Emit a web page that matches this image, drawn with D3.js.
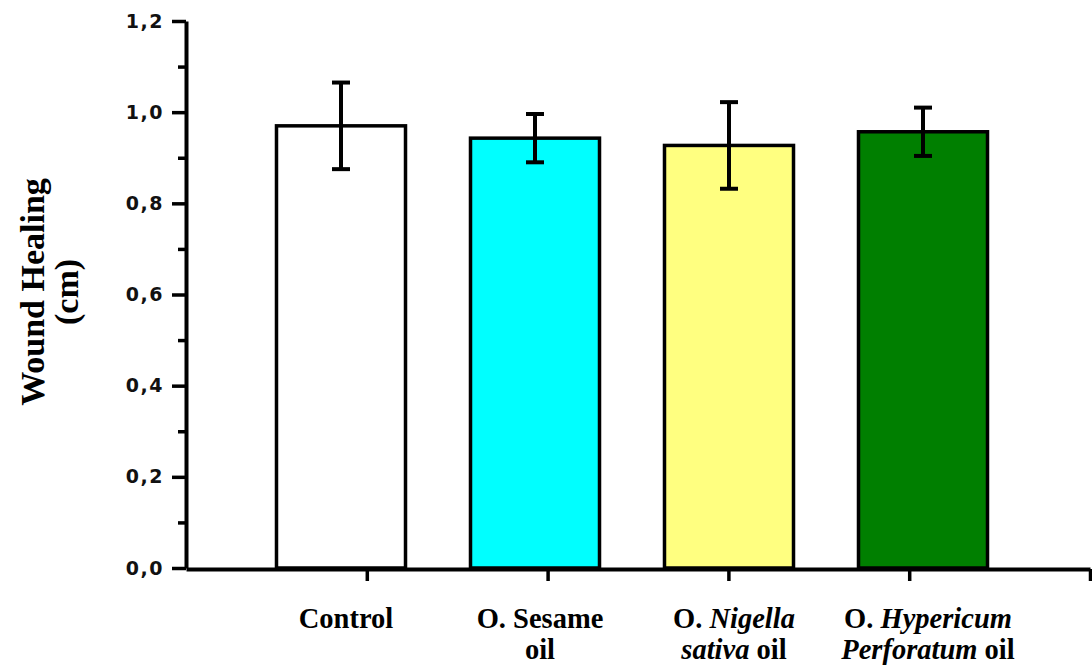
<!DOCTYPE html>
<html>
<head>
<meta charset="utf-8">
<script src="https://cdn.jsdelivr.net/npm/d3@7"></script>
<style>
  body { margin: 0; background: #fff; }
  svg { display: block; }
</style>
</head>
<body>
<svg id="chart" width="1092" height="668"></svg>
<script>
// data
const categories = ['Control', 'O. Sesame oil', 'O. Nigella sativa oil', 'O. Hypericum Perforatum oil'];
// label lines, *...* = italic
const labelLines = [
  ['Control'],
  ['O. Sesame', 'oil'],
  ['O. *Nigella*', '*sativa* oil'],
  ['O. *Hypericum*', '*Perforatum* oil'],
];
const means = [0.97, 0.943, 0.927, 0.957];
const errors = [0.095, 0.053, 0.095, 0.053];
const colors = ['#ffffff', '#00ffff', '#ffff80', '#007f00'];
const yTicks = [0, 0.2, 0.4, 0.6, 0.8, 1.0, 1.2];
const yMinorTicks = [0.1, 0.3, 0.5, 0.7, 0.9, 1.1];
const xTicks = [1, 2, 3, 4, 5];

const svg = d3.select('#chart');

// scales
const y = d3.scaleLinear().domain([0, 1.2]).range([568, 21]);
const xAxisScale = d3.scaleLinear().domain([0, 5]).range([186, 1090]);
const x = d3.scaleBand()
  .domain(categories)
  .range([244, 1020])
  .paddingInner(0.335)
  .paddingOuter(0.1675);

// bars
svg.append('g')
  .selectAll('rect')
  .data(categories)
  .join('rect')
  .attr('x', d => x(d))
  .attr('y', (d, i) => y(means[i]))
  .attr('width', x.bandwidth())
  .attr('height', (d, i) => y(0) - y(means[i]))
  .attr('fill', (d, i) => colors[i])
  .attr('stroke', '#000')
  .attr('stroke-width', 3.5);

// error bars
const eb = svg.append('g')
  .attr('stroke', '#000')
  .attr('stroke-width', 4)
  .selectAll('g')
  .data(categories)
  .join('g')
  .attr('transform', d => `translate(${x(d) + x.bandwidth() / 2},0)`);
eb.append('line')
  .attr('y1', (d, i) => y(means[i] + errors[i]))
  .attr('y2', (d, i) => y(means[i] - errors[i]));
eb.append('line')
  .attr('x1', -9).attr('x2', 9)
  .attr('y1', (d, i) => y(means[i] + errors[i]))
  .attr('y2', (d, i) => y(means[i] + errors[i]));
eb.append('line')
  .attr('x1', -9).attr('x2', 9)
  .attr('y1', (d, i) => y(means[i] - errors[i]))
  .attr('y2', (d, i) => y(means[i] - errors[i]));

// y axis
const fmt = d => d3.format('.1f')(d).replace('.', ',');
const yAxis = svg.append('g')
  .attr('transform', 'translate(186,0)')
  .call(d3.axisLeft(y).tickValues(yTicks).tickSize(14).tickSizeOuter(0).tickPadding(8).tickFormat(fmt));
yAxis.select('.domain').attr('stroke-width', 4);
yAxis.selectAll('.tick line').attr('stroke-width', 3.5);
yAxis.selectAll('.tick text')
  .attr('font-family', '"DejaVu Sans", sans-serif')
  .attr('font-weight', 'bold')
  .attr('font-size', 19)
  .attr('letter-spacing', 1.5)
  .attr('fill', '#111');

const yMinor = svg.append('g')
  .attr('transform', 'translate(186,0)')
  .call(d3.axisLeft(y).tickValues(yMinorTicks).tickSize(8).tickFormat(''));
yMinor.select('.domain').remove();
yMinor.selectAll('.tick line').attr('stroke-width', 3.5);

// x axis
const xAxis = svg.append('g')
  .attr('transform', 'translate(0,569)')
  .call(d3.axisBottom(xAxisScale).tickValues(xTicks).tickSize(12).tickSizeOuter(0).tickFormat(''));
xAxis.select('.domain').attr('stroke-width', 4);
xAxis.selectAll('.tick line').attr('stroke-width', 3.5);

// category labels
const lab = svg.append('g')
  .attr('font-family', '"Liberation Serif", "Times New Roman", serif')
  .attr('font-weight', 'bold')
  .attr('font-size', 28.5)
  .attr('fill', '#000')
  .attr('text-anchor', 'middle')
  .selectAll('text')
  .data(categories)
  .join('text')
  .attr('transform', d => `translate(${x(d) + x.bandwidth() / 2 + 5},0)`);

lab.each(function (d, i) {
  const t = d3.select(this);
  labelLines[i].forEach((line, li) => {
    const parts = line.split('*');
    parts.forEach((p, pi) => {
      if (!p) return;
      const ts = t.append('tspan').text(p)
        .attr('font-style', pi % 2 === 1 ? 'italic' : 'normal');
      if (pi === 0 || (pi === 1 && parts[0] === '')) {
        ts.attr('x', 0).attr('y', 628 + li * 31);
      }
    });
  });
});

// y axis title
const title = svg.append('text')
  .attr('font-family', '"Liberation Serif", "Times New Roman", serif')
  .attr('font-weight', 'bold')
  .attr('font-size', 34)
  .attr('fill', '#000')
  .attr('text-anchor', 'middle')
  .attr('transform', 'translate(0,292) rotate(-90)');
title.append('tspan').attr('x', 0).attr('y', 44).text('Wound Healing');
title.append('tspan').attr('x', 0).attr('y', 78).text('(cm)');
</script>
</body>
</html>
